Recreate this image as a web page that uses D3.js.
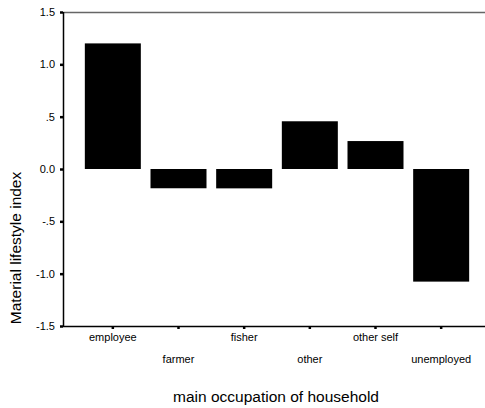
<!DOCTYPE html>
<html><head><meta charset="utf-8">
<script src="https://cdn.jsdelivr.net/npm/d3@7"></script>
<style>body{margin:0;background:#fff}svg{display:block}text{font-family:Arial,"Liberation Sans",sans-serif;fill:#000}</style>
</head><body>
<svg id="c" width="485" height="408"></svg>
<script>
const categories = ["employee","farmer","fisher","other","other self","unemployed"];
const values = [1.20, -0.184, -0.185, 0.456, 0.267, -1.076];
const yTicks = [-1.5,-1.0,-0.5,0.0,0.5,1.0,1.5];
const yTickLabels = ["-1.5","-1.0","-.5","0.0",".5","1.0","1.5"];

const svg = d3.select("#c");
const pLeft = 63, pRight = 485, pTop = 12, pBottom = 326;
const x = d3.scaleBand().domain(categories).range([80, 474]).padding(0);
const y = d3.scaleLinear().domain([-1.5, 1.5]).range([pBottom, pTop]);
const bw = 56;

// top border
svg.append("line").attr("x1", pLeft).attr("x2", pRight).attr("y1", pTop+0.5).attr("y2", pTop+0.5)
  .attr("stroke", "#666").attr("stroke-width", 1.3);

// bars
svg.selectAll("rect.bar").data(categories).enter().append("rect")
  .attr("x", d => x(d) + x.bandwidth()/2 - bw/2)
  .attr("width", bw)
  .attr("y", (d,i) => y(Math.max(0, values[i])))
  .attr("height", (d,i) => Math.abs(y(values[i]) - y(0)))
  .attr("fill", "#000");

// y axis
const ya = svg.append("g").attr("transform", `translate(${pLeft},0)`)
  .call(d3.axisLeft(y).tickValues(yTicks).tickFormat((d,i) => yTickLabels[i]).tickSize(3).tickPadding(5));
ya.select(".domain").attr("stroke", "#000").attr("stroke-width", 1.5).attr("d", `M0.5,${pTop}V${pBottom}`);
ya.selectAll(".tick line").attr("stroke-width", 2.5);
ya.selectAll(".tick text").style("font-size", "11px").attr("font-family", "Arial, 'Liberation Sans', sans-serif");

// x axis
const xa = svg.append("g").attr("transform", `translate(0,${pBottom})`)
  .call(d3.axisBottom(x).tickSize(3).tickPadding(0));
xa.select(".domain").attr("stroke", "#000").attr("stroke-width", 1.5).attr("d", `M${pLeft},0.5H${pRight}`);
xa.selectAll(".tick line").attr("stroke-width", 2.5);
xa.selectAll(".tick text").style("font-size", "11px")
  .attr("font-family", "Arial, 'Liberation Sans', sans-serif")
  .attr("dy", null)
  .attr("y", (d,i) => i % 2 === 0 ? 15 : 37);

// titles
svg.append("text").attr("x", 276).attr("y", 402).attr("text-anchor", "middle")
  .style("font-size", "15.5px").text("main occupation of household");
svg.append("text").attr("transform", "translate(21,248) rotate(-90)").attr("text-anchor", "middle")
  .style("font-size", "15.5px").text("Material lifestyle index");
</script>
</body></html>
